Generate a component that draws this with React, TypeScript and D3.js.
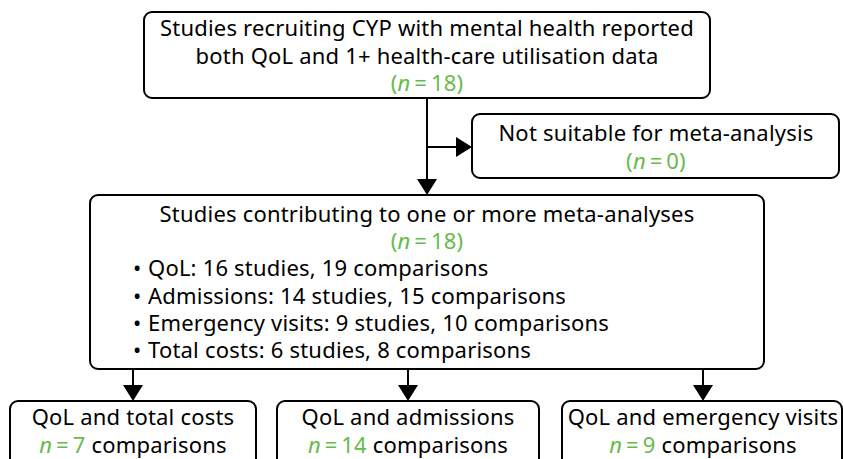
import React, { useEffect, useRef } from "react";
import * as d3 from "d3";

// ---- data ----
const topLines = [
  "Studies recruiting CYP with mental health reported",
  "both QoL and 1+ health-care utilisation data",
];
const topN = 18;
const sideLine = "Not suitable for meta-analysis";
const sideN = 0;
const midTitle = "Studies contributing to one or more meta-analyses";
const midN = 18;
const outcomes = ["QoL", "Admissions", "Emergency visits", "Total costs"];
const outcomeStudies = [16, 14, 9, 6];
const outcomeComparisons = [19, 15, 10, 8];
const bottomLabels = ["QoL and total costs", "QoL and admissions", "QoL and emergency visits"];
const bottomN = [7, 14, 9];

const W = 843;
const H = 459;
const GREEN = "#66bb4a";
const FONT = "'Noto Sans', 'DejaVu Sans', sans-serif";
const FS = 22;

export default function App() {
  const ref = useRef<SVGSVGElement>(null);

  useEffect(() => {
    const svg = d3.select(ref.current);
    svg.selectAll("*").remove();
    const g = svg.append("g");

    const box = (x0: number, y0: number, x1: number, y1: number) =>
      g.append("rect")
        .attr("x", x0).attr("y", y0)
        .attr("width", x1 - x0).attr("height", y1 - y0)
        .attr("rx", 8).attr("ry", 8)
        .attr("fill", "#fff").attr("stroke", "#000").attr("stroke-width", 2);

    const line = (pts: [number, number][]) =>
      g.append("path").attr("d", d3.line()(pts)).attr("fill", "none")
        .attr("stroke", "#000").attr("stroke-width", 2);

    const headDown = (x: number, yTip: number) =>
      g.append("path").attr("d", d3.line()([[x - 10, yTip - 16], [x + 10, yTip - 16], [x, yTip]]) + "Z").attr("fill", "#000");
    const headRight = (xTip: number, y: number) =>
      g.append("path").attr("d", d3.line()([[xTip - 16, y - 10], [xTip - 16, y + 10], [xTip, y]]) + "Z").attr("fill", "#000");

    const text = (x: number, y: number, anchor = "middle") =>
      g.append("text").attr("x", x).attr("y", y).attr("text-anchor", anchor)
        .attr("font-family", FONT).attr("font-size", FS).attr("letter-spacing", 0.2)
        .attr("fill", "#000");

    const nParen = (x: number, y: number, n: number) => {
      const t = text(x, y);
      t.append("tspan").attr("fill", GREEN).text("(");
      t.append("tspan").attr("fill", GREEN).attr("font-style", "italic").text("n");
      t.append("tspan").attr("fill", GREEN).text("\u2009=\u2009" + n + ")");
    };

    // connectors
    const cx = 427;
    line([[cx, 98], [cx, 180]]);
    headDown(cx, 195);
    line([[cx, 147], [458, 147]]);
    headRight(472, 147);
    const bx = [133, 408, 703];
    bx.forEach((x) => { line([[x, 369], [x, 388]]); headDown(x, 401); });

    // top box
    box(144, 12, 710, 98);
    topLines.forEach((l, i) => text(cx, 35.5 + i * 28).text(l));
    nParen(cx, 91, topN);

    // side box
    box(472, 114, 839, 178);
    text(656, 140.5).text(sideLine);
    nParen(656, 168.5, sideN);

    // middle box
    box(90, 195, 764, 369);
    const lh = 27.2;
    text(cx, 222).text(midTitle);
    nParen(cx, 222 + lh, midN);
    outcomes.forEach((o, i) => {
      const y = 222 + lh * (i + 2);
      text(133, y, "start").text("\u2022");
      text(148, y, "start").text(`${o}: ${outcomeStudies[i]} studies, ${outcomeComparisons[i]} comparisons`);
    });

    // bottom boxes
    const bb: [number, number][] = [[10, 256], [277, 539], [562, 842]];
    bb.forEach(([a, b], i) => {
      box(a, 401, b, 470);
      text(bx[i], 425).text(bottomLabels[i]);
      const t = text(bx[i], 453);
      t.append("tspan").attr("fill", GREEN).attr("font-style", "italic").text("n");
      t.append("tspan").attr("fill", GREEN).text("\u2009=\u2009" + bottomN[i]);
      t.append("tspan").text(" comparisons");
    });
  }, []);

  return (
    <svg ref={ref} width={W} height={H}
      style={{ position: "absolute", left: 0, top: 0, background: "#fff" }} />
  );
}
